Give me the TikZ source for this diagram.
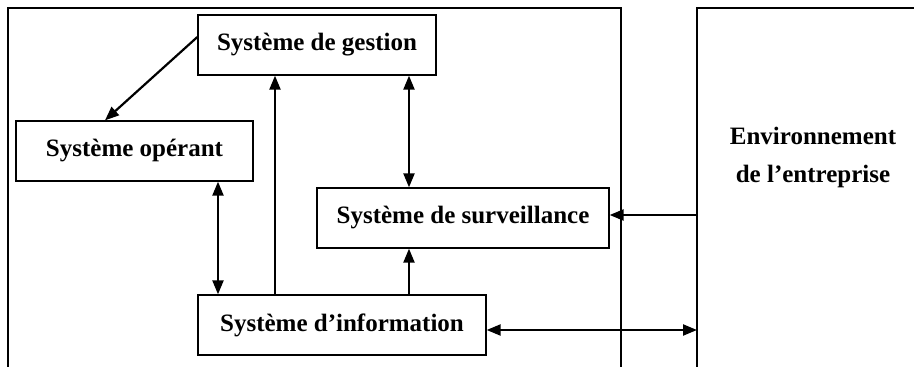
\documentclass[tikz,border=0pt]{standalone}
\usepackage{fontspec}
\setmainfont{Liberation Serif}
\usetikzlibrary{arrows.meta}
\begin{document}
\begin{tikzpicture}[x=1pt,y=-1pt,
  sysbox/.style={draw, line width=1.3pt, rectangle, minimum height=60pt, inner sep=0pt, font=\fontsize{25}{30}\selectfont\bfseries},
  frame/.style={draw, line width=1.3pt},
  conn/.style={line width=2.2pt, -{Triangle[length=14pt,width=11pt]}},
  dconn/.style={line width=2.2pt, {Triangle[length=14pt,width=11pt]}-{Triangle[length=14pt,width=11pt]}}]
\fill[white] (0,0) rectangle (914,367);
\useasboundingbox (0,0) rectangle (914,367);
% frames
\draw[frame] (8,367) -- (8,8) -- (621,8) -- (621,367);
\draw[frame] (697,367) -- (697,8) -- (914,8);
% nodes
\node[sysbox, minimum width=238pt] (ges) at (317,45) {Système de gestion};
\node[sysbox, minimum width=237pt] (ope) at (134.5,151) {Système opérant};
\node[sysbox, minimum width=292pt] (sur) at (463,218) {Système de surveillance};
\node[sysbox, minimum width=288pt] (inf) at (342,325) {Système d’information};
\node[font=\fontsize{25}{38}\selectfont\bfseries, align=center] (env) at (813,157) {Environnement\\de l’entreprise};
% helper coordinates
\coordinate (xa) at (275,0);
\coordinate (xb) at (409,0);
\coordinate (xc) at (218,0);
\coordinate (xd) at (105,0);
\coordinate (envl) at (697,0);
% connectors
\draw[conn] ([yshift=8pt]ges.west) -- (ope.north -| xd);
\draw[conn] (inf.north -| xa) -- (ges.south -| xa);
\draw[dconn] (ges.south -| xb) -- (sur.north -| xb);
\draw[conn] (inf.north -| xb) -- (sur.south -| xb);
\draw[dconn] (ope.south -| xc) -- (inf.north -| xc);
\draw[conn] ([yshift=3pt]sur.east -| envl) -- ([yshift=3pt]sur.east);
\draw[dconn] ([yshift=-5pt]inf.east) -- ([yshift=-5pt]inf.east -| envl);
\end{tikzpicture}
\end{document}
